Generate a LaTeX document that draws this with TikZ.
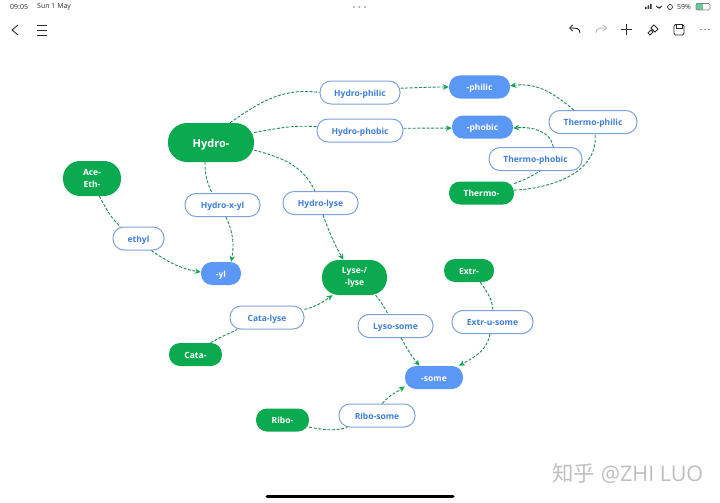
\documentclass[tikz,border=0pt]{standalone}
\usepackage{fontspec}
\setmainfont{Open Sans}
\newfontfamily\cjkfont{Noto Sans CJK SC}
\usetikzlibrary{arrows.meta}
\definecolor{rootgreen}{RGB}{11,170,80}
\definecolor{endblue}{RGB}{91,151,245}
\definecolor{wordline}{RGB}{125,162,216}
\definecolor{wordtext}{RGB}{62,126,216}
\definecolor{linkgreen}{RGB}{30,140,85}
\definecolor{barblack}{RGB}{45,45,45}
\tikzset {
    style root/.style={
        fill=rootgreen,
        text=white,
        rectangle, % Set the shape as a rectangle
        rounded corners=11pt,
        inner sep=0pt,
        align=center,
        font=\fontsize{8.5}{11.5}\selectfont\bfseries,
    },
    style line/.style={
        text height=8.4pt,
        text depth=1pt,
    },
    style end/.style={
        fill=endblue,
        text=white,
        rectangle,
        rounded corners=11pt,
        inner sep=0pt,
        minimum height=23pt,
        style line,
        font=\fontsize{8.5}{11.5}\selectfont\bfseries,
    },
    style word/.style={
        fill=white,
        draw=wordline,
        line width=1pt,
        text=wordtext,
        rectangle,
        rounded corners=11pt,
        inner sep=0pt,
        minimum height=23pt,
        style line,
        font=\fontsize{8.5}{11.5}\selectfont\bfseries,
    },
    style link/.style={
        draw=linkgreen,
        line width=0.9pt,
        dash pattern=on 3pt off 1.6pt,
    },
    style tip/.style={
        style link,
        -{Stealth[length=6pt,width=5.5pt,rootgreen]},
    },
    style status/.style={
        inner sep=0pt,
        text=barblack,
        font=\fontsize{7}{8}\selectfont,
    },
    style icon/.style={
        draw=barblack,
        line width=0.9pt,
    },
}
\begin{document}
\begin{tikzpicture}[x=1pt, y=-1pt]
        \useasboundingbox (0,0) rectangle (720,503);
        \fill[white] (0,0) rectangle (720,503);

        % top bar
        \node[style status, anchor=west] at (10,7) (clock) {09:05};
        \node[style status, anchor=west] at (37,7) (date) {Sun 1 May};
        \node[style status, anchor=west] at (677,7) (battery) {59\%};
        \foreach \x in {354,359.5,365} \fill[gray!70] (\x,7) circle (1.2);
        \fill[barblack] (645,7) rectangle +(1.5,2) (647.5,5.5) rectangle +(1.5,3.5) (650,4) rectangle +(1.5,5);
        \draw[style icon, line width=0.8pt] (656,6) arc[start angle=140, end angle=40, radius=4] (657.5,7.5) arc[start angle=140, end angle=40, radius=2];
        \draw[style icon, line width=0.7pt] (670,7) circle (2.5);
        \fill[rootgreen!60] (696,3.5) rectangle (703,10);
        \draw[gray, line width=0.6pt, rounded corners=1.5pt] (696,3.5) rectangle (710,10);

        \draw[style icon] (18,25) -- (12,30) -- (18,35);
        \draw[style icon] (37,25) -- (47,25) (37,30) -- (47,30) (37,35) -- (47,35);
        \draw[style icon, -{Straight Barb[length=3pt]}] (580,33) .. controls (580,28) and (576,28) .. (569,28);
        \draw[style icon, gray!50, -{Straight Barb[length=3pt]}] (596,33) .. controls (596,28) and (600,28) .. (607,28);
        \draw[style icon] (621,29.5) -- (632,29.5) (626.5,24) -- (626.5,35);
        \draw[style icon] (648,33) -- (651,30) -- (653,32) -- (650,35) -- cycle (651,28) -- (654,25) -- (658,29) -- (655,32) -- cycle;
        \draw[style icon, rounded corners=1.5pt] (674,24.5) rectangle (684,35);
        \draw[style icon] (676,24.5) -- (676,28) -- (682,28) -- (682,24.5);
        \foreach \x in {701,705,709} \fill[barblack] (\x,29.5) circle (0.6);

        % root words
        \node[style root, rounded corners=19pt, minimum width=86pt, minimum height=39pt, text height=10pt, text depth=1pt, font=\fontsize{11}{14}\selectfont\bfseries] at (211,142.5) (hydro) {Hydro-};
        \node[style root, rounded corners=17pt, minimum width=58pt, minimum height=35pt] at (92,178.5) (aceeth) {Ace-\\Eth-};
        \node[style root, style line, minimum width=65pt, minimum height=23pt] at (481.5,193) (thermo) {Thermo-};
        \node[style root, rounded corners=17pt, minimum width=65pt, minimum height=35pt] at (354.5,277.5) (lyse) {Lyse-/\\-lyse};
        \node[style root, style line, minimum width=50pt, minimum height=23pt] at (469,270.5) (extr) {Extr-};
        \node[style root, style line, minimum width=53pt, minimum height=23pt] at (195.5,354.5) (cata) {Cata-};
        \node[style root, style line, minimum width=53pt, minimum height=23pt] at (282.5,420) (ribo) {Ribo-};

        % endings
        \node[style end, minimum width=61pt] at (479.5,87) (philic) {-philic};
        \node[style end, minimum width=61pt] at (482.5,127) (phobic) {-phobic};
        \node[style end, minimum width=40pt] at (221,273.5) (yl) {-yl};
        \node[style end, minimum width=58pt] at (434,377.5) (some) {-some};

        % derived words
        \node[style word, minimum width=80pt] at (360,92.5) (hydrophilic) {Hydro-philic};
        \node[style word, minimum width=86pt] at (360,130.5) (hydrophobic) {Hydro-phobic};
        \node[style word, minimum width=75pt] at (222.5,205) (hydroxyl) {Hydro-x-yl};
        \node[style word, minimum width=75pt] at (320.5,203) (hydrolyse) {Hydro-lyse};
        \node[style word, minimum width=88pt] at (593,122) (thermophilic) {Thermo-philic};
        \node[style word, minimum width=93pt] at (535.5,159) (thermophobic) {Thermo-phobic};
        \node[style word, minimum width=51pt] at (138.5,238.5) (ethyl) {ethyl};
        \node[style word, minimum width=74pt] at (267,317.5) (catalyse) {Cata-lyse};
        \node[style word, minimum width=75pt] at (395.5,326) (lysosome) {Lyso-some};
        \node[style word, minimum width=81pt] at (492.5,322) (extrusome) {Extr-u-some};
        \node[style word, minimum width=76pt] at (377,415.5) (ribosome) {Ribo-some};

        \draw[style link] (hydro.46) to[out=35, in=172] (hydrophilic.west);
        \draw[style link] (hydro.13) to[out=10, in=176] (hydrophobic.175);
        \draw[style link] (hydro.253) to[out=270, in=115] (hydroxyl.131);
        \draw[style link] (hydro.-10) to[out=-15, in=115] (hydrolyse.115);
        \draw[style tip] (hydrolyse.-78) to[out=-70, in=120] (lyse.122);
        \draw[style tip] (hydroxyl.-74) to[out=-65, in=80] (yl.49);
        \draw[style link] (aceeth.-68) to[out=-60, in=135] (ethyl.147);
        \draw[style tip] (ethyl.-43) to[out=-35, in=170] (yl.176);
        \draw[style link] (cata.38) to[out=30, in=205] (catalyse.202);
        \draw[style tip] (catalyse.12) to[out=15, in=215] (lyse.219);
        \draw[style link] (lyse.-40) to[out=-50, in=120] (lysosome.122);
        \draw[style tip] (lysosome.-65) to[out=-60, in=130] (some.141);
        \draw[style link] (extr.-46) to[out=-55, in=95] (extrusome.88);
        \draw[style tip] (extrusome.258) to[out=-100, in=30] (some.25);
        \draw[style link] (ribo.-15) to[out=-10, in=195] (ribosome.202);
        \draw[style tip] (ribosome.66) to[out=50, in=215] (some.197);
        \draw[style link] (thermo.16) to[out=20, in=210] (thermophobic.-69);
        \draw[style tip] (thermophobic.34) to[out=100, in=5] (phobic.358);
        \draw[style link] (thermo.5) to[out=3, in=-85] (thermophilic.-80);
        \draw[style tip] (thermophilic.148) to[out=140, in=8] (philic.2);
        \draw[style tip] (hydrophilic.6) to[out=2, in=180] (philic.west);
        \draw[style tip] (hydrophobic.3) to[out=0, in=180] (phobic.182);

        % bottom
        \draw[black, line width=3pt, line cap=round] (267,496) -- (453,496);
        \node[inner sep=0pt, text=gray!50, anchor=west, font=\fontsize{21.5}{24}\selectfont] at (552,473) (mark) {{\cjkfont 知乎} @ZHI LUO};
    \end{tikzpicture}
\end{document}
